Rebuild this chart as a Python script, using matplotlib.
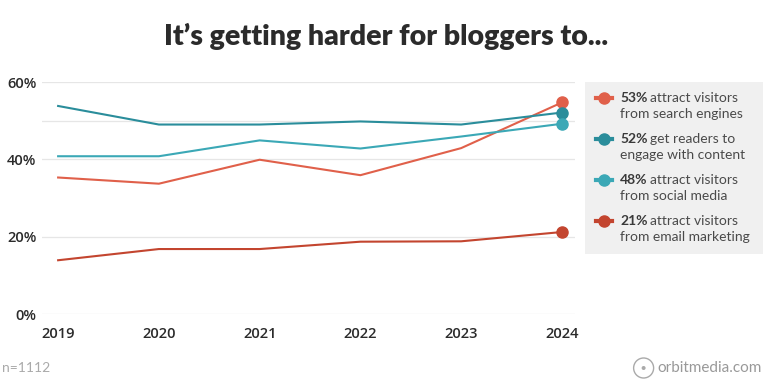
import matplotlib
matplotlib.use("Agg")
from matplotlib import pyplot as plt
from matplotlib.patches import Rectangle, Circle
from matplotlib.lines import Line2D

# data
years = [2019, 2020, 2021, 2022, 2023, 2024]
search = [35.3, 33.7, 39.9, 35.9, 42.9, 54.7]
engage = [53.8, 49.0, 49.0, 49.8, 49.0, 52.1]
social = [40.8, 40.8, 44.9, 42.8, 45.9, 49.2]
email = [13.9, 16.8, 16.8, 18.7, 18.8, 21.2]

pcts = ["53%", "52%", "48%", "21%"]
line1 = ["attract visitors", "get readers to", "attract visitors", "attract visitors"]
line2 = ["from search engines", "engage with content", "from social media", "from email marketing"]

colors = ["#E0604A", "#2A8D9B", "#3BA8B6", "#C3452F"]
series = [search, engage, social, email]

plt.rcParams['font.family'] = ['Open Sans', 'DejaVu Sans']

W, H = 768, 390
fig = plt.figure(figsize=(W / 100, H / 100), dpi=100)
ax = fig.add_axes([42 / W, 1 - 314 / H, (575 - 42) / W, (314 - 82) / H])

for y, c in zip(series, colors):
    ax.plot(years, y, color=c, linewidth=1.5, solid_joinstyle='round', zorder=3)
    ax.plot(years[-1], y[-1], 'o', color=c, markersize=8, clip_on=False, zorder=4)

ax.set_xlim(2018.84, 2024.13)
ax.set_ylim(0, 60)
ax.set_yticks([0, 20, 40, 60])
ax.set_yticks([50], minor=True)
ax.set_yticklabels(["0%", "20%", "40%", "60%"])
ax.set_xticks(years)
ax.set_xticklabels([str(y) for y in years])
ax.grid(axis='y', which='both', color='#E6E6E6', linewidth=0.9, zorder=0)
ax.tick_params(axis='both', which='both', length=0, labelsize=10.5, labelcolor='#2b2b2b')
ax.tick_params(axis='x', pad=9)
ax.tick_params(axis='y', pad=4)
for lab in ax.get_xticklabels() + ax.get_yticklabels():
    lab.set_fontweight('semibold')
for s in ax.spines.values():
    s.set_visible(False)

fig.text(386 / W, 1 - 36 / H, "It\u2019s getting harder for bloggers to...",
         ha='center', va='center', fontsize=20.5, fontweight='heavy',
         family=['Lato', 'DejaVu Sans'], color='#2b2b2b')

# legend panel
fig.patches.append(Rectangle((585 / W, 1 - 254 / H), (763 - 585) / W, (254 - 82) / H,
                             transform=fig.transFigure, facecolor='#F0F0F0',
                             edgecolor='none', zorder=0))
renderer = fig.canvas.get_renderer()
lfont = ['Lato', 'DejaVu Sans']
for i in range(4):
    yy = 98 + i * 41
    fig.lines.append(Line2D([596 / W, 612 / W], [1 - yy / H, 1 - yy / H],
                            transform=fig.transFigure, color=colors[i], linewidth=3))
    fig.lines.append(Line2D([604 / W], [1 - yy / H], transform=fig.transFigure,
                            marker='o', markersize=8, color=colors[i]))
    t = fig.text(620 / W, 1 - yy / H, pcts[i], ha='left', va='center', fontsize=10,
                 fontweight='bold', family=lfont, color='#3a3a3a')
    bb = t.get_window_extent(renderer)
    fig.text((bb.x1 + 3) / W, 1 - yy / H, line1[i], ha='left', va='center', fontsize=10,
             family=lfont, color='#4a4a4a')
    fig.text(620 / W, 1 - (yy + 16) / H, line2[i], ha='left', va='center', fontsize=10,
             family=lfont, color='#4a4a4a')

# footer
fig.text(2 / W, 1 - 368 / H, "n=1112", ha='left', va='center', fontsize=10,
         family=lfont, color='#aaaaaa')
ft = fig.text(762 / W, 1 - 368 / H, "orbitmedia.com", ha='right', va='center', fontsize=11,
              family=lfont, color='#999999')
fb = ft.get_window_extent(renderer)
cx = fb.x0 - 14
fig.patches.append(Circle((cx, H - 368), 10, transform=None, facecolor='none',
                          edgecolor='#aaaaaa', linewidth=1))
fig.patches.append(Circle((cx, H - 368), 2, transform=None, facecolor='#aaaaaa',
                          edgecolor='none'))

fig.savefig("out.png", dpi=100)
